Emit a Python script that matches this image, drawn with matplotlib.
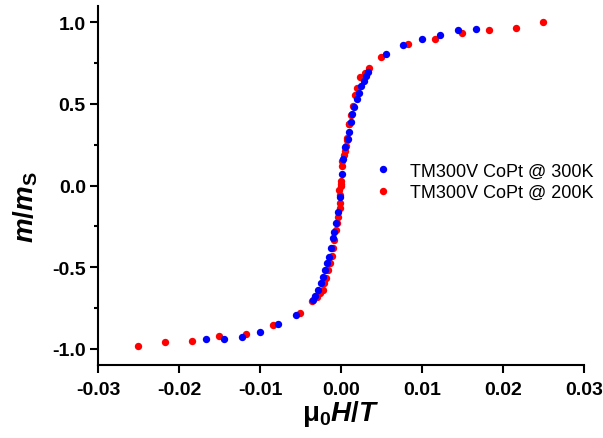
import numpy as np
import matplotlib
matplotlib.use('Agg')
import matplotlib.pyplot as plt
from matplotlib.ticker import MultipleLocator, FormatStrFormatter

# field (T) and reduced moment for the two temperatures
field_300K = [-0.0167, -0.0145, -0.01226, -0.0100, -0.0078, -0.0056, -0.0035,
              -0.0032, -0.0028, -0.0025, -0.00218, -0.00198, -0.00177, -0.00152,
              -0.00127, -0.00100, -0.00086, -0.00062, -0.00037, -0.00012,
              0.00008, 0.00029, 0.0005, 0.0009, 0.00103, 0.0012, 0.0014,
              0.00164, 0.00194, 0.0022, 0.0025, 0.0028, 0.0031, 0.00337,
              0.0055, 0.00765, 0.0100, 0.0122, 0.0144, 0.0167]
moment_300K = [-0.94, -0.94, -0.928, -0.899, -0.85, -0.795, -0.70,
               -0.68, -0.64, -0.60, -0.559, -0.518, -0.477, -0.436,
               -0.383, -0.32, -0.283, -0.23, -0.165, -0.071,
               0.073, 0.165, 0.237, 0.287, 0.328, 0.39, 0.44,
               0.48, 0.532, 0.57, 0.61, 0.64, 0.67, 0.695,
               0.807, 0.862, 0.899, 0.924, 0.954, 0.96]

field_200K = [-0.0251, -0.0217, -0.0184, -0.0151, -0.0117, -0.0084, -0.0050,
              -0.0036, -0.003, -0.0026, -0.00226, -0.0021, -0.00185, -0.0016,
              -0.00136, -0.00115, -0.00095, -0.00086, -0.00062, -0.0005,
              -0.00033, -0.00012, -0.00018, -0.0002, -0.00015, -0.00004,
              -0.00004, 0.00002, 0.00008, 0.0001, 0.00037, 0.0005, 0.0006,
              0.0007, 0.0007, 0.001, 0.00103, 0.00125, 0.00152, 0.00173,
              0.002, 0.00235, 0.003, 0.0035, 0.0049, 0.0083, 0.0116, 0.0149,
              0.0183, 0.0216, 0.0249]
moment_200K = [-0.985, -0.96, -0.952, -0.924, -0.913, -0.856, -0.783,
               -0.71, -0.685, -0.66, -0.64, -0.6, -0.569, -0.52,
               -0.477, -0.43, -0.385, -0.334, -0.273, -0.23,
               -0.19, -0.11, -0.14, -0.029, -0.06, 0.012,
               -0.006, 0.03, 0.118, 0.15, 0.185, 0.21, 0.245,
               0.277, 0.29, 0.375, 0.379, 0.43, 0.49, 0.552,
               0.6, 0.665, 0.69, 0.72, 0.789, 0.869, 0.899, 0.936,
               0.954, 0.966, 1.0]

labels = ['TM300V CoPt @ 300K', 'TM300V CoPt @ 200K']

plt.rcParams['font.family'] = ['Liberation Sans', 'DejaVu Sans']
plt.rcParams['mathtext.fontset'] = 'custom'
plt.rcParams['mathtext.rm'] = 'Liberation Sans:bold'
plt.rcParams['mathtext.it'] = 'Liberation Sans:bold:italic'
plt.rcParams['mathtext.bf'] = 'Liberation Sans:bold'

fig = plt.figure(figsize=(6.03, 4.39), dpi=100)
ax = fig.add_axes([0.1625, 0.1663, 0.806, 0.8177])

ax.plot(field_300K, moment_300K, 'o', color='#0000ff', markersize=5.3,
        markeredgewidth=0, label=labels[0], zorder=3)
ax.plot(field_200K, moment_200K, 'o', color='#ff0000', markersize=5.3,
        markeredgewidth=0, label=labels[1], zorder=2)

ax.set_xlim(-0.03, 0.03)
ax.set_ylim(-1.1, 1.1)
ax.xaxis.set_major_locator(MultipleLocator(0.01))
ax.yaxis.set_major_locator(MultipleLocator(0.5))
ax.yaxis.set_minor_locator(MultipleLocator(0.25))
ax.xaxis.set_major_formatter(FormatStrFormatter('%.2f'))
ax.yaxis.set_major_formatter(FormatStrFormatter('%.1f'))

for s in ['top', 'right']:
    ax.spines[s].set_visible(False)
for s in ['left', 'bottom']:
    ax.spines[s].set_linewidth(1.5)

ax.tick_params(which='major', length=5.8, width=1.5, direction='out')
ax.tick_params(which='minor', length=2.8, width=1.5, direction='out')
ax.tick_params(axis='x', pad=6)
ax.tick_params(axis='y', pad=3)
for lab in ax.get_xticklabels() + ax.get_yticklabels():
    lab.set_fontsize(14)
    lab.set_fontweight('bold')

ax.set_xlabel(r'$\mathrm{\mu_0}H/T$', fontsize=20, labelpad=0)
ax.set_ylabel(r'$m/m_\mathrm{S}$', fontsize=20)
ax.yaxis.set_label_coords(-0.12, 0.443)

ax.legend(loc='center left', bbox_to_anchor=(0.535, 0.51), frameon=False,
          fontsize=13, handlelength=1.0, handletextpad=1.0,
          labelspacing=0.25)

fig.savefig('out.png', dpi=100)
